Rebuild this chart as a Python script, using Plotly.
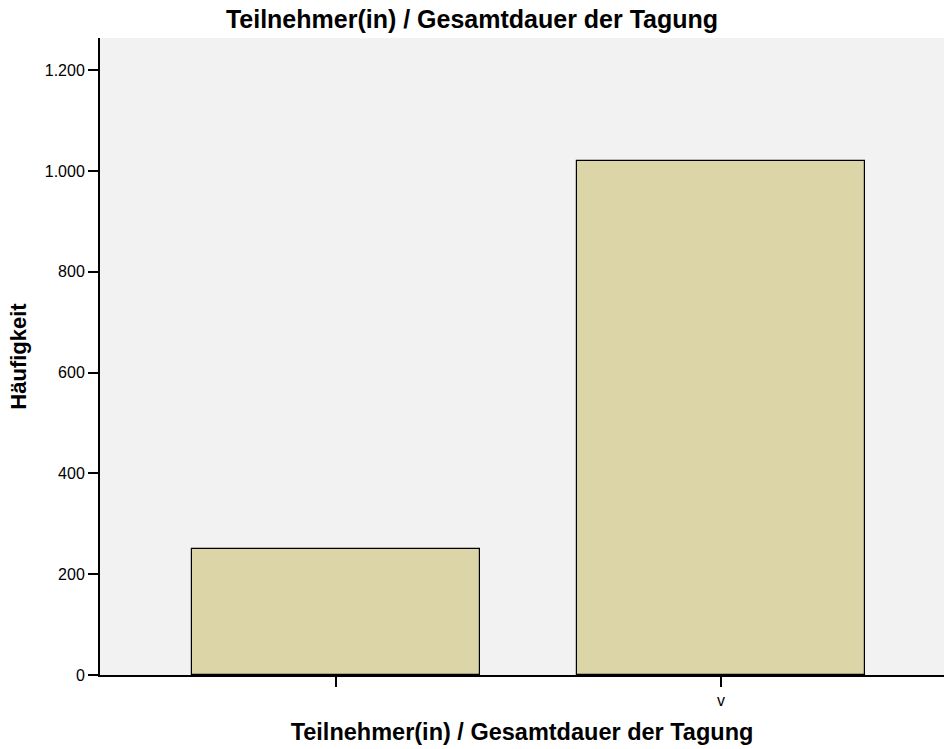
import plotly.graph_objects as go

categories = ["", "v"]
counts = [251, 1019]
y_ticks = [0, 200, 400, 600, 800, 1000, 1200]

fig = go.Figure()
fig.add_trace(go.Bar(
    x=list(range(len(categories))),
    y=counts,
    width=0.748,
    marker=dict(color="#dcd5a8", line=dict(color="#000000", width=1.2)),
    hoverinfo="y",
))

font_family = "Liberation Sans, Arial, sans-serif"
fig.update_layout(
    width=944, height=749,
    margin=dict(l=100, r=0, t=38, b=74),
    paper_bgcolor="white",
    plot_bgcolor="#f2f2f2",
    separators=",.",
    font=dict(family=font_family, color="#000000"),
    title=dict(text="<b>Teilnehmer(in) / Gesamtdauer der Tagung</b>",
               xref="container", x=0.5, xanchor="center",
               yref="container", y=1 - 19 / 749, yanchor="middle",
               font=dict(size=25, family=font_family)),
    showlegend=False,
    bargap=0,
)
fig.update_xaxes(
    range=[-0.613, 1.579],
    tickvals=list(range(len(categories))),
    ticktext=categories,
    ticks="outside", ticklen=10, tickwidth=2, tickcolor="#000",
    showline=True, linecolor="#000", linewidth=2,
    showgrid=False, zeroline=False,
    tickfont=dict(size=16),
    title=dict(text="<b>Teilnehmer(in) / Gesamtdauer der Tagung</b>", font=dict(size=23.5), standoff=15),
)
fig.update_yaxes(
    range=[0, 1264],
    tickvals=y_ticks,
    tickformat=",d",
    ticks="outside", ticklen=10, tickwidth=2, tickcolor="#000",
    showline=True, linecolor="#000", linewidth=2,
    showgrid=False, zeroline=False,
    tickfont=dict(size=16),
    title=dict(text="<b>Häufigkeit</b>", font=dict(size=22), standoff=12),
)
fig.write_html("out.html", config={"displayModeBar": False},
               post_script="document.body.style.margin='0';document.body.style.overflow='hidden';")
